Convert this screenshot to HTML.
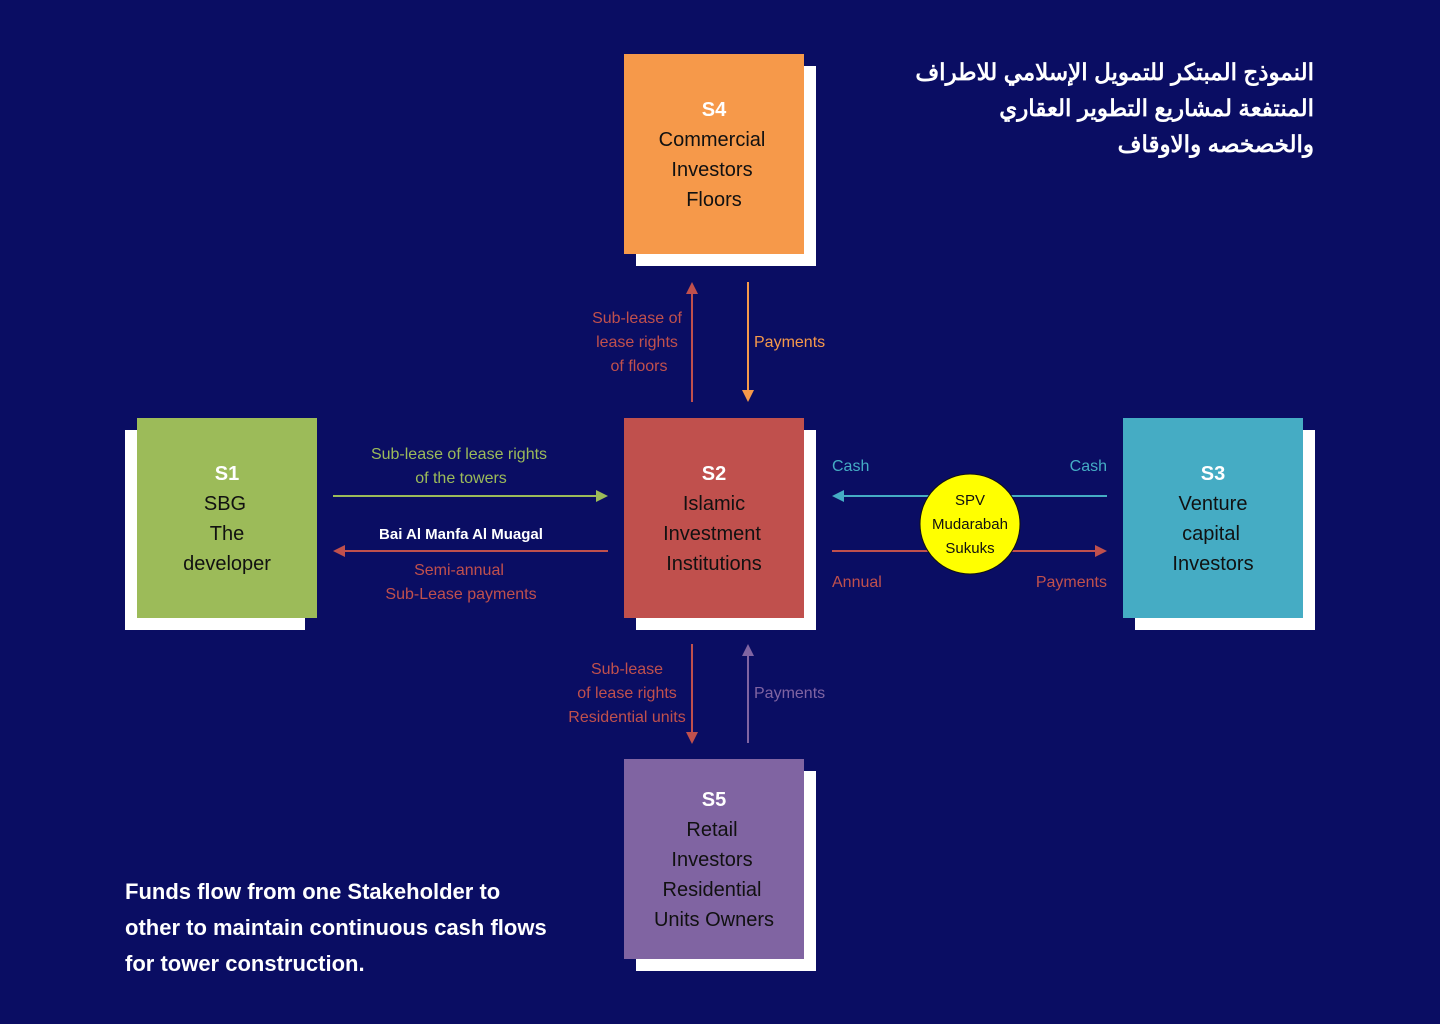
<!DOCTYPE html>
<html><head><meta charset="utf-8"><style>
body{margin:0;background:#0a0d63;}
svg{display:block}
text{font-family:"Liberation Sans",sans-serif;}
</style></head><body>
<svg width="1440" height="1024" viewBox="0 0 1440 1024" xmlns="http://www.w3.org/2000/svg">
<rect width="1440" height="1024" fill="#0a0d63"/>
<rect x="636" y="66" width="180" height="200" fill="#fff"/>
<rect x="125" y="430" width="180" height="200" fill="#fff"/>
<rect x="636" y="430" width="180" height="200" fill="#fff"/>
<rect x="1135" y="430" width="180" height="200" fill="#fff"/>
<rect x="636" y="771" width="180" height="200" fill="#fff"/>
<rect x="624" y="54" width="180" height="200" fill="#f6994a"/>
<rect x="137" y="418" width="180" height="200" fill="#9cbb59"/>
<rect x="624" y="418" width="180" height="200" fill="#c0504d"/>
<rect x="1123" y="418" width="180" height="200" fill="#45acc4"/>
<rect x="624" y="759" width="180" height="200" fill="#8064a2"/>

<g font-size="20" text-anchor="middle" fill="#111">
<text x="714" y="116" fill="#fff" font-weight="bold">S4</text>
<text x="712" y="146">Commercial</text><text x="712" y="176">Investors</text><text x="714" y="206">Floors</text>
<text x="227" y="480" fill="#fff" font-weight="bold">S1</text>
<text x="225" y="510">SBG</text><text x="227" y="540">The</text><text x="227" y="570">developer</text>
<text x="714" y="480" fill="#fff" font-weight="bold">S2</text>
<text x="714" y="510">Islamic</text><text x="712" y="540">Investment</text><text x="714" y="570">Institutions</text>
<text x="1213" y="480" fill="#fff" font-weight="bold">S3</text>
<text x="1213" y="510">Venture</text><text x="1211" y="540">capital</text><text x="1213" y="570">Investors</text>
<text x="714" y="806" fill="#fff" font-weight="bold">S5</text>
<text x="712" y="836">Retail</text><text x="712" y="866">Investors</text><text x="712" y="896">Residential</text><text x="714" y="926">Units Owners</text>
</g>

<line x1="692" y1="292" x2="692" y2="402" stroke="#c0504d" stroke-width="2"/>
<polygon points="692,282 686,294 698,294" fill="#c0504d"/>
<line x1="748" y1="282" x2="748" y2="392" stroke="#f6994a" stroke-width="2"/>
<polygon points="748,402 742,390 754,390" fill="#f6994a"/>
<g font-size="16" fill="#c0504d" text-anchor="middle">
<text x="637" y="323">Sub-lease of</text><text x="637" y="347">lease rights</text><text x="639" y="371">of floors</text>
</g>
<text x="754" y="347" font-size="16" fill="#f6994a">Payments</text>

<line x1="333" y1="496" x2="598" y2="496" stroke="#9cbb59" stroke-width="2"/>
<polygon points="608,496 596,490 596,502" fill="#9cbb59"/>
<line x1="343" y1="551" x2="608" y2="551" stroke="#c0504d" stroke-width="2"/>
<polygon points="333,551 345,545 345,557" fill="#c0504d"/>
<g font-size="16" text-anchor="middle">
<text x="459" y="459" fill="#9cbb59">Sub-lease of  lease rights</text>
<text x="461" y="483" fill="#9cbb59">of the towers</text>
<text x="461" y="539" fill="#fff" font-weight="bold" font-size="15">Bai Al Manfa Al Muagal</text>
<text x="459" y="575" fill="#c0504d">Semi-annual</text>
<text x="461" y="599" fill="#c0504d">Sub-Lease payments</text>
</g>

<line x1="842" y1="496" x2="1107" y2="496" stroke="#45acc4" stroke-width="2"/>
<polygon points="832,496 844,490 844,502" fill="#45acc4"/>
<line x1="832" y1="551" x2="1097" y2="551" stroke="#c0504d" stroke-width="2"/>
<polygon points="1107,551 1095,545 1095,557" fill="#c0504d"/>
<circle cx="970" cy="524" r="50" fill="#ffff00" stroke="#111" stroke-width="1"/>
<g font-size="15" text-anchor="middle" fill="#111">
<text x="970" y="505">SPV</text><text x="970" y="529">Mudarabah</text><text x="970" y="553">Sukuks</text>
</g>
<g font-size="16">
<text x="832" y="471" fill="#45acc4">Cash</text>
<text x="1107" y="471" fill="#45acc4" text-anchor="end">Cash</text>
<text x="832" y="587" fill="#c0504d">Annual</text>
<text x="1107" y="587" fill="#c0504d" text-anchor="end">Payments</text>
</g>

<line x1="692" y1="644" x2="692" y2="734" stroke="#c0504d" stroke-width="2"/>
<polygon points="692,744 686,732 698,732" fill="#c0504d"/>
<line x1="748" y1="654" x2="748" y2="743" stroke="#8064a2" stroke-width="2"/>
<polygon points="748,644 742,656 754,656" fill="#8064a2"/>
<g font-size="16" fill="#c0504d" text-anchor="middle">
<text x="627" y="674">Sub-lease</text><text x="627" y="698">of lease rights</text><text x="627" y="722">Residential units</text>
</g>
<text x="754" y="698" font-size="16" fill="#8064a2">Payments</text>

<g font-family="'Liberation Sans','DejaVu Sans',sans-serif" font-size="23" font-weight="bold" fill="#fff" text-anchor="end">
<text x="1314" y="80">النموذج المبتكر للتمويل الإسلامي للاطراف</text>
<text x="1314" y="116">المنتفعة لمشاريع التطوير العقاري</text>
<text x="1314" y="152">والخصخصه والاوقاف</text>
</g>
<g font-size="22" font-weight="bold" fill="#fff">
<text x="125" y="899">Funds flow from one Stakeholder to</text>
<text x="125" y="935">other to maintain continuous cash flows</text>
<text x="125" y="971">for tower construction.</text>
</g>
</svg>
</body></html>
